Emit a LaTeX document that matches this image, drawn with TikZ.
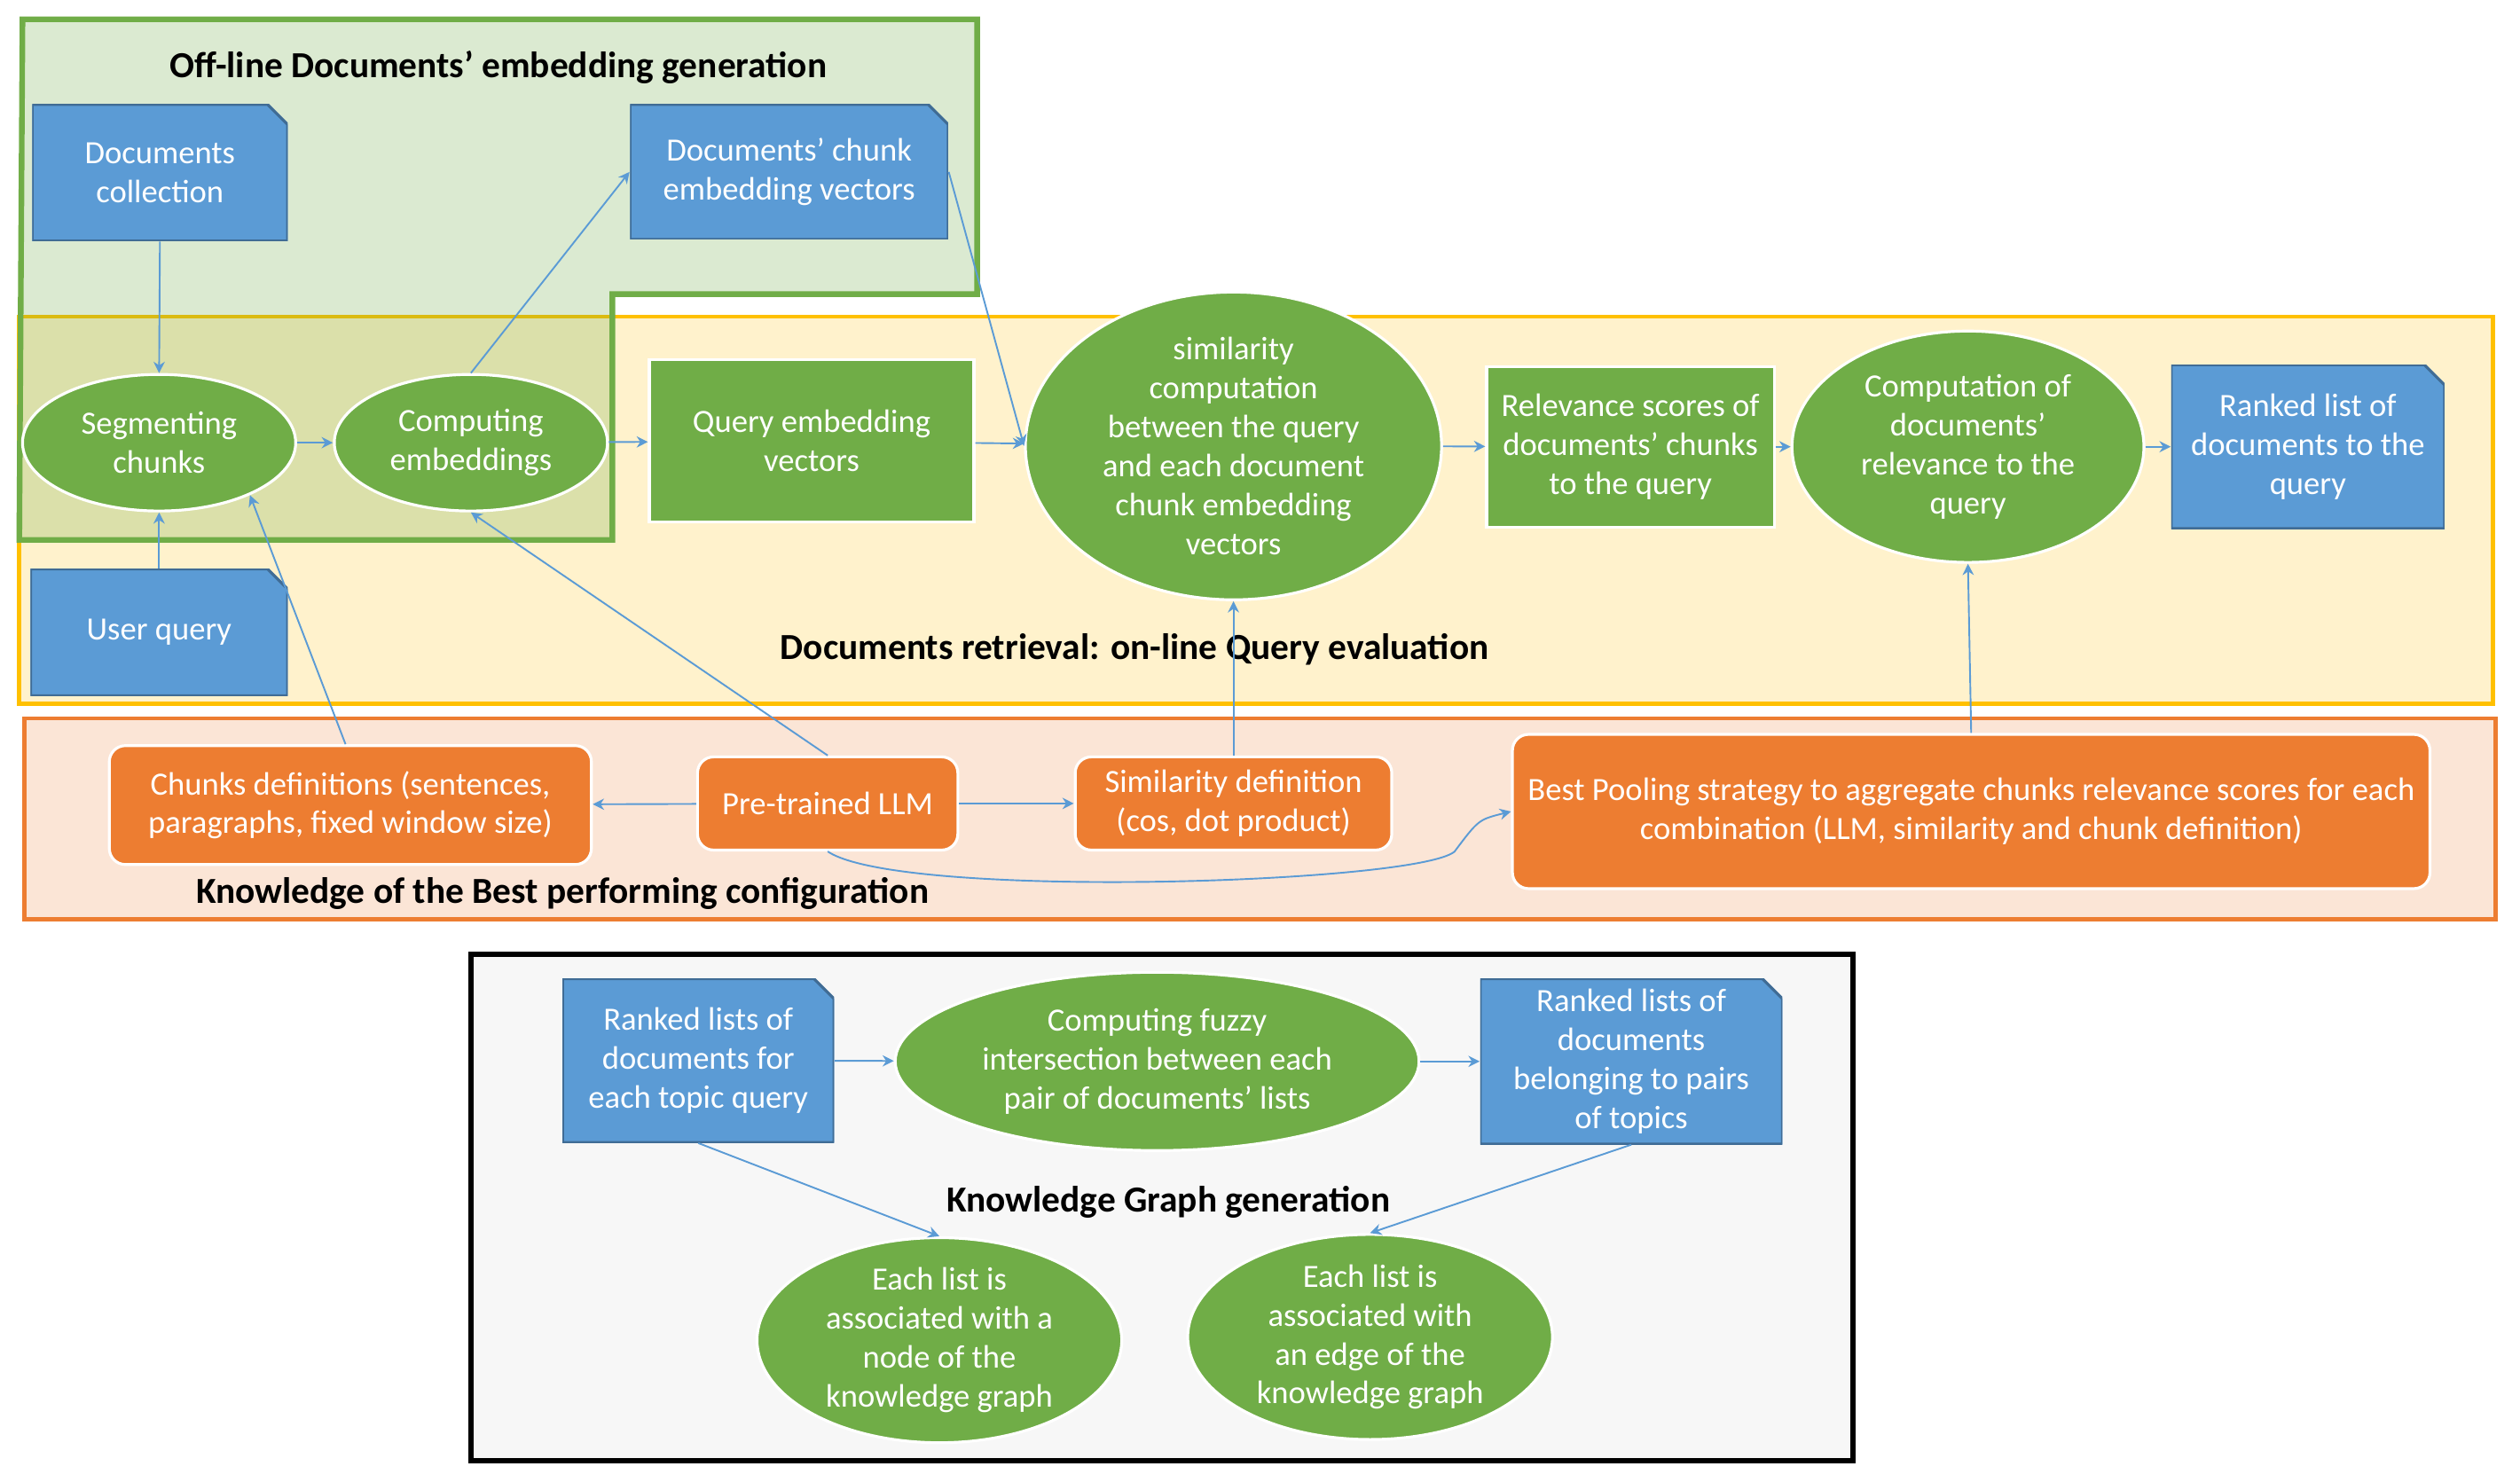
\documentclass[tikz,border=0pt]{standalone}
\usepackage{fontspec}
\setmainfont{Carlito}
\usetikzlibrary{shapes.geometric,arrows.meta}
\definecolor{cblue}{HTML}{5B9BD5}
\definecolor{cgreen}{HTML}{70AD47}
\definecolor{corange}{HTML}{ED7D31}
\definecolor{cyell}{HTML}{FFC000}
\begin{document}
\begin{tikzpicture}[x=0.02cm,y=-0.02cm,
  font=\fontsize{11.5}{13.8}\selectfont,
  every node/.style={align=center,inner sep=0pt},
  doc/.style={text=white,path picture={\fill[cblue] (path picture bounding box.north west) -- ([xshift=-0.25cm]path picture bounding box.north east) -- ([yshift=-0.25cm]path picture bounding box.north east) -- (path picture bounding box.south east) -- (path picture bounding box.south west) -- cycle;
    \draw[cblue!70!black,line width=1pt] (path picture bounding box.north west) -- ([xshift=-0.25cm]path picture bounding box.north east) -- ([yshift=-0.25cm]path picture bounding box.north east) -- (path picture bounding box.south east) -- (path picture bounding box.south west) -- cycle;}},
  ell/.style={ellipse,fill=cgreen,draw=white,line width=1pt,text=white},
  grect/.style={rectangle,fill=cgreen,draw=white,line width=1pt,text=white},
  orect/.style={rectangle,rounded corners=0.2cm,fill=corange,draw=white,line width=1pt,text=white},
  arr/.style={cblue,line width=0.6pt,-{Stealth[length=4pt,width=4pt]}},
  ttl/.style={font=\fontsize{13}{15}\selectfont\bfseries}]
\useasboundingbox (0,0) rectangle (1568,922);
% regions
\draw[cyell,line width=1.5pt,fill=cyell!20] (12,197) rectangle (1551,438);
\draw[cgreen,line width=2pt,fill=cgreen,fill opacity=0.25] (14,12) -- (608,12) -- (608,183) -- (381,183) -- (381,336) -- (12,336) -- cycle;
\draw[corange,line width=1.5pt,fill=corange!20] (15,447) rectangle (1553,572);
\draw[black,line width=2pt,fill=black!3] (293,594) rectangle (1153,909);
% titles
\node[ttl] (t1) at (310,42) {Off-line Documents’ embedding generation};
\node[ttl] (t2) at (706,404) {Documents retrieval: on-line Query evaluation};
\node[ttl] (t3) at (350,556) {Knowledge of the Best performing configuration};
\node[ttl] (t4) at (727,748) {Knowledge Graph generation};
% nodes
\node[doc,minimum width=3.18cm,minimum height=1.7cm] (dc) at (99.5,107.5) {Documents\\collection};
\node[doc,minimum width=3.96cm,minimum height=1.68cm] (cv) at (491,107) {Documents’ chunk\\embedding vectors};
\node[doc,minimum width=3.2cm,minimum height=1.58cm] (uq) at (99,393.5) {User query};
\node[doc,minimum width=3.4cm,minimum height=2.04cm] (rk) at (1436,278) {Ranked list of\\documents to the\\query};
\node[ell,minimum width=3.4cm,minimum height=1.7cm] (sg) at (99,275.5) {Segmenting\\chunks};
\node[ell,minimum width=3.4cm,minimum height=1.7cm] (ce) at (293,275.5) {Computing\\embeddings};
\node[grect,minimum width=4.04cm,minimum height=2.02cm] (qv) at (505,274.5) {Query embedding\\vectors};
\node[ell,minimum width=5.18cm,minimum height=2.9cm] (sm) at (767.5,277.5) {similarity\\computation\\between the query\\and each document\\chunk embedding\\vectors};
\node[grect,minimum width=3.58cm,minimum height=2cm] (rs) at (1014.5,278) {Relevance scores of\\documents’ chunks\\to the query};
\node[ell,minimum width=4.38cm,minimum height=2.88cm] (cd) at (1224.5,278) {Computation of\\documents’\\relevance to the\\query};
\node[orect,minimum width=6cm,minimum height=1.48cm] (ch) at (218,501) {Chunks definitions (sentences,\\paragraphs, fixed window size)};
\node[orect,minimum width=3.24cm,minimum height=1.16cm] (ll) at (515,500) {Pre-trained LLM};
\node[orect,minimum width=3.94cm,minimum height=1.16cm] (sd) at (767.5,500) {Similarity definition\\(cos, dot product)};
\node[orect,minimum width=11.42cm,minimum height=1.92cm] (po) at (1226.5,505) {Best Pooling strategy to aggregate chunks relevance scores for each\\combination (LLM, similarity and chunk definition)};
\node[doc,minimum width=3.38cm,minimum height=2.04cm] (r2) at (434.5,660) {Ranked lists of\\documents for\\each topic query};
\node[ell,minimum width=6.52cm,minimum height=2.22cm] (fz) at (720,660.5) {Computing fuzzy\\intersection between each\\pair of documents’ lists};
\node[doc,minimum width=3.76cm,minimum height=2.06cm] (r3) at (1015,660.5) {Ranked lists of\\documents\\belonging to pairs\\of topics};
\node[ell,minimum width=4.54cm,minimum height=2.2cm] (en) at (584.5,834) {Each list is\\associated with a\\node of the\\knowledge graph};
\node[ell,minimum width=4.54cm,minimum height=2.2cm] (ee) at (852.5,832) {Each list is\\associated with\\an edge of the\\knowledge graph};
% arrows
\draw[arr] (dc.south) -- (sg.north);
\draw[arr] (uq.north) -- (sg.south);
\draw[arr] (sg) -- (ce);
\draw[arr] (ce.north) -- (cv.west);
\draw[arr] (ce) -- (qv);
\draw[arr] (cv.east) -- (sm.west);
\draw[arr] (qv) -- (sm);
\draw[arr] (sm) -- (rs);
\draw[arr] (rs) -- (cd);
\draw[arr] (cd) -- (rk);
\draw[arr] ([xshift=-0.06cm]ch.north) -- (sg.-30);
\draw[arr] (ll.north) -- (ce.south);
\draw[arr] (ll) -- (ch);
\draw[arr] (ll) -- (sd);
\draw[arr] (sd.north) -- (sm.south);
\draw[arr] (po.north) -- (cd.south);
\draw[arr] (ll.south) .. controls (560,560) and (880,550) .. (905,530) .. controls (920,510) .. (po.west);
\draw[arr] (r2) -- (fz);
\draw[arr] (fz) -- (r3);
\draw[arr] (r2.south) -- (en.north);
\draw[arr] (r3.south) -- (ee.north);
\end{tikzpicture}
\end{document}
